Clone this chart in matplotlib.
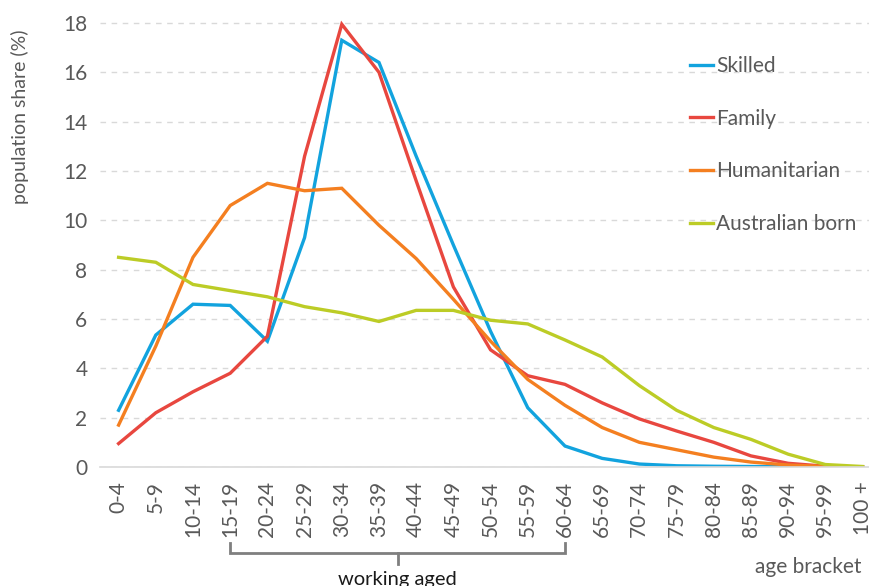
import matplotlib
matplotlib.use("Agg")
import matplotlib.pyplot as plt

plt.rcParams['font.family'] = ['Lato', 'DejaVu Sans']

age_brackets = ['0-4', '5-9', '10-14', '15-19', '20-24', '25-29', '30-34', '35-39',
                '40-44', '45-49', '50-54', '55-59', '60-64', '65-69', '70-74', '75-79',
                '80-84', '85-89', '90-94', '95-99', '100 +']

skilled = [2.3, 5.35, 6.6, 6.55, 5.1, 9.3, 17.3, 16.4, 12.6, 9.0, 5.5, 2.4, 0.85,
           0.35, 0.12, 0.05, 0.03, 0.02, 0.01, 0.0, 0.0]
family = [0.95, 2.2, 3.05, 3.8, 5.3, 12.6, 17.95, 16.0, 11.6, 7.3, 4.75, 3.7, 3.35,
          2.6, 1.95, 1.46, 1.0, 0.45, 0.15, 0.03, 0.0]
humanitarian = [1.7, 4.9, 8.5, 10.6, 11.5, 11.2, 11.3, 9.8, 8.45, 6.8, 5.1, 3.55, 2.5,
                1.6, 1.0, 0.7, 0.4, 0.2, 0.08, 0.02, 0.0]
australian_born = [8.5, 8.3, 7.4, 7.15, 6.9, 6.5, 6.25, 5.9, 6.35, 6.35, 5.95, 5.8, 5.15,
                   4.46, 3.3, 2.3, 1.6, 1.12, 0.52, 0.1, 0.02]

series = [('Skilled', skilled, '#12a3de'),
          ('Family', family, '#e8473f'),
          ('Humanitarian', humanitarian, '#f47f20'),
          ('Australian born', australian_born, '#bccc26')]

text_grey = '#595959'

fig = plt.figure(figsize=(8.7, 5.86), dpi=100)
ax = fig.add_axes([100 / 870, 119 / 586, 770 / 870, 451.4 / 586])

x = list(range(len(age_brackets)))
for name, vals, col in series:
    ax.plot(x, vals, color=col, lw=2.4, label=name, solid_joinstyle='miter')

ax.set_xlim(-0.5, 20.2)
ax.set_ylim(0, 18.3)
ax.set_yticks(range(0, 19, 2))
ax.set_xticks(x)
ax.set_xticklabels(age_brackets, rotation=90)
ax.tick_params(axis='both', length=0, labelsize=15, colors=text_grey, pad=9)
ax.tick_params(axis='x', pad=10)

for s in ['top', 'right', 'left']:
    ax.spines[s].set_visible(False)
ax.spines['bottom'].set_color('#d9d9d9')
ax.spines['bottom'].set_linewidth(1.2)

ax.yaxis.grid(True, color='#d9d9d9', linestyle=(0, (4, 4)), lw=1)
ax.set_axisbelow(True)

leg = ax.legend(loc='upper left', bbox_to_anchor=(0.742, 0.952), frameon=False,
                handlelength=1.1, handletextpad=0.15, labelspacing=1.57,
                fontsize=15)
for t in leg.get_texts():
    t.set_color(text_grey)

fig.text(20 / 870, 1 - 117 / 586, 'population share (%)', rotation=90,
         va='center', ha='center', fontsize=14, color=text_grey)

# bracket marking the working-age brackets
tr = ax.get_xaxis_transform()
bx0, bx1 = 3, 12
ax.plot([bx0, bx0, bx1, bx1], [-0.168, -0.19, -0.19, -0.168], transform=tr,
        color='#7f7f7f', lw=2, clip_on=False, solid_joinstyle='miter')
ax.plot([(bx0 + bx1) / 2] * 2, [-0.19, -0.215], transform=tr,
        color='#7f7f7f', lw=2, clip_on=False)
ax.text((bx0 + bx1) / 2, -0.25, 'working aged', transform=tr, ha='center',
        va='center', fontsize=14.5, color='#1a1a1a', clip_on=False)

ax.text(19.97, -0.222, 'age bracket', transform=tr, ha='right', va='center',
        fontsize=15, color=text_grey)

fig.savefig('out.png', dpi=100)
